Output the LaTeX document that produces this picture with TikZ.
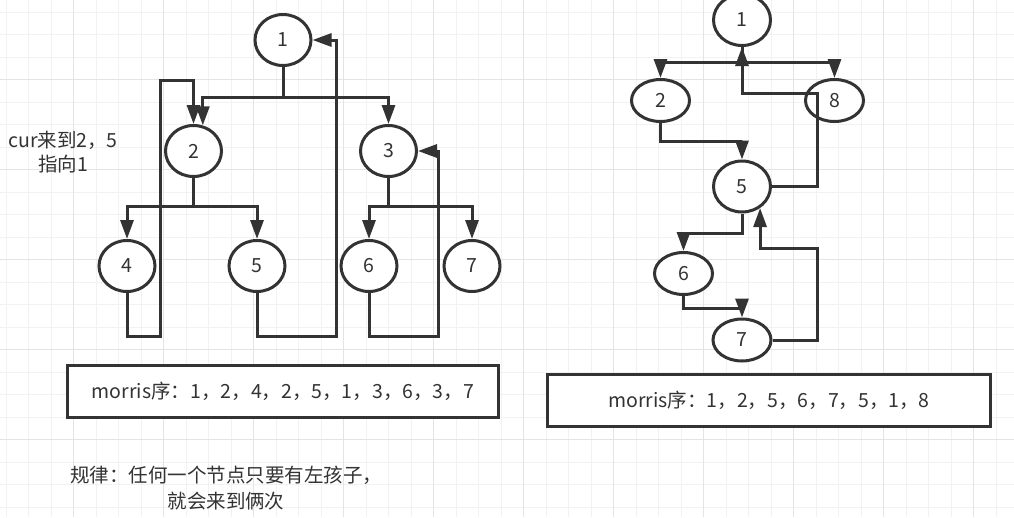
\documentclass[tikz,border=0pt]{standalone}
\usepackage{fontspec}
\setmainfont{Noto Sans CJK SC}
\usetikzlibrary{shapes.geometric,arrows.meta}
\definecolor{ink}{HTML}{333333}
\definecolor{gridminor}{HTML}{F2F2F2}
\definecolor{gridmajor}{HTML}{E4E4E4}
\begin{document}
\begin{tikzpicture}[x=1pt,y=-1pt,
  nd/.style={ellipse, draw=ink, line width=3pt, fill=white, inner sep=0pt, outer sep=1.5pt,
    minimum width=56pt, minimum height=51pt, font=\fontsize{19.5}{22}\selectfont, text=ink},
  ndflat/.style={nd, minimum width=58pt, minimum height=42pt},
  ndtall/.style={nd, minimum width=57pt, minimum height=51pt},
  edge/.style={draw=ink, line width=3pt, -{Triangle[length=19pt,width=13pt]}},
  box/.style={draw=ink, line width=3pt, fill=white, inner sep=0pt, font=\fontsize{19.5}{22}\selectfont, text=ink},
  txt/.style={font=\fontsize{19.5}{24}\selectfont, text=ink, align=center, inner sep=0pt}]
\useasboundingbox (0,0) rectangle (1014,517);
\fill[white] (0,0) rectangle (1014,517);
% grid
\foreach \k in {0,...,44} \draw[gridminor, line width=1pt] ({6+22.5*\k},0) -- ({6+22.5*\k},517);
\foreach \k in {0,...,22} \draw[gridminor, line width=1pt] (0,{12+22.5*\k}) -- (1014,{12+22.5*\k});
\foreach \k in {3,7,...,43} \draw[gridmajor, line width=1pt] ({6+22.5*\k},0) -- ({6+22.5*\k},517);
\foreach \k in {3,7,...,19} \draw[gridmajor, line width=1pt] (0,{12+22.5*\k}) -- (1014,{12+22.5*\k});

% left tree nodes
\node[nd] (l1) at (283,40) {1};
\node[nd] (l2) at (193.5,151) {2};
\node[nd] (l3) at (388.5,151) {3};
\node[nd] (l4) at (127,266) {4};
\node[nd] (l5) at (257,266) {5};
\node[nd] (l6) at (369,266) {6};
\node[nd] (l7) at (472,266) {7};

% left tree edges
\draw[edge] (l1.south) -- ++(0,30) -| (l2.70);
\draw[edge] (l1.south) -- ++(0,30) -| (l3.north);
\draw[edge] (l2.south) -- ++(0,28) -| (l4.north);
\draw[edge] (l2.south) -- ++(0,28) -| (l5.north);
\draw[edge] (l3.south) -- ++(0,28) -| (l6.north);
\draw[edge] (l3.south) -- ++(0,28) -| (l7.north);
\draw[edge] (l4.south) |- (160,336) -- (160,80) -| (l2.north);
\draw[edge] (l5.south) |- (336,336) -- (336,40) -- (l1.east);
\draw[edge] (l6.south) |- (438,336) -- (438,151) -- (l3.east);

\node[txt] (t1) at (63,152) {cur来到2，5\\指向1};
\node[box, minimum width=431pt, minimum height=52pt] (b1) at (283,391.5) {morris序：1，2，4，2，5，1，3，6，3，7};
\node[txt, text width=340pt, align=center, font=\fontsize{19.5}{26}\selectfont] (t2) at (226,488) {规律：任何一个节点只要有左孩子，\\就会来到俩次};

% right tree nodes
\node[ndtall] (r1) at (742,20) {1};
\node[ndflat] (r2) at (660.5,100.5) {2};
\node[ndflat] (r8) at (834.5,100.5) {8};
\node[ndtall] (r5) at (742,186.5) {5};
\node[ndflat] (r6) at (683.5,273.5) {6};
\node[ndflat] (r7) at (742,340) {7};

% right tree edges
\draw[edge] (r1.south) -- ++(0,15) -| (r2.north);
\draw[edge] (r1.south) -- ++(0,15) -| (r8.north);
\draw[edge] (r2.south) -- ++(0,18.5) -| (r5.north);
\draw[edge] (r5.south) -- ++(0,19.5) -| (r6.north);
\draw[edge] (r6.south) -- ++(0,12.5) -| (r7.north);
\draw[edge] (r5.east) -| (817,93) -| (r1.south);
\draw[edge] (r7.east) -| (817,248) -| (r5.-50);

\node[box, minimum width=443pt, minimum height=52pt] (b2) at (769,400.5) {morris序：1，2，5，6，7，5，1，8};
\end{tikzpicture}
\end{document}
